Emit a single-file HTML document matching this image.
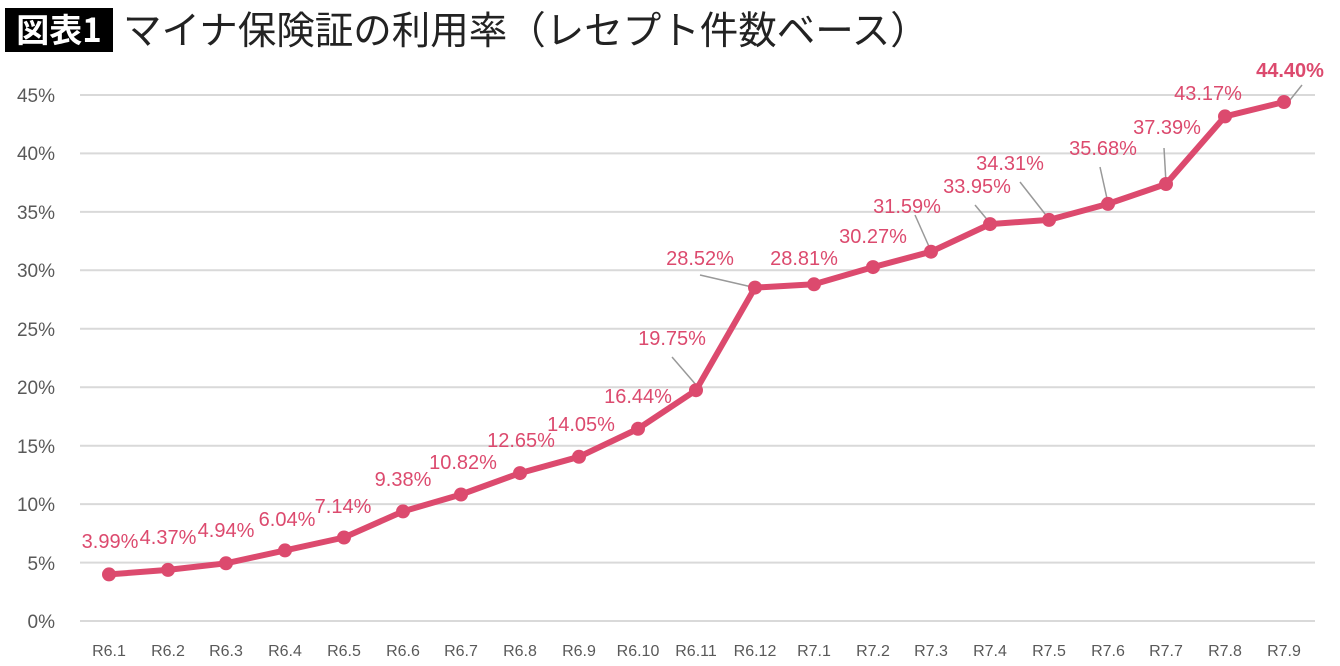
<!DOCTYPE html>
<html><head><meta charset="utf-8"><style>
html,body{margin:0;padding:0;background:#fff;}
svg{display:block;}
</style></head><body>
<svg width="1340" height="666" viewBox="0 0 1340 666" xmlns="http://www.w3.org/2000/svg" font-family="'Liberation Sans','Noto Sans CJK JP',sans-serif">
<rect x="5" y="8" width="108" height="44" fill="#000"/>
<text x="59" y="42" fill="#fff" font-size="33" text-anchor="middle" font-family="'Noto Sans CJK JP',sans-serif" font-weight="bold">図表1</text>
<text x="123" y="44" fill="#222" font-size="38.5" font-family="'Noto Sans CJK JP',sans-serif">マイナ保険証の利用率（レセプト件数ベース）</text>
<g stroke="#d9d9d9" stroke-width="2">
<line x1="80" x2="1315" y1="95" y2="95"/><line x1="80" x2="1315" y1="153.4" y2="153.4"/><line x1="80" x2="1315" y1="211.9" y2="211.9"/><line x1="80" x2="1315" y1="270.3" y2="270.3"/><line x1="80" x2="1315" y1="328.8" y2="328.8"/><line x1="80" x2="1315" y1="387.2" y2="387.2"/><line x1="80" x2="1315" y1="445.7" y2="445.7"/><line x1="80" x2="1315" y1="504.1" y2="504.1"/><line x1="80" x2="1315" y1="562.6" y2="562.6"/><line x1="80" x2="1315" y1="621" y2="621"/>
</g>
<g fill="#595959" font-size="19" text-anchor="end">
<text x="55" y="102">45%</text><text x="55" y="160">40%</text><text x="55" y="219">35%</text><text x="55" y="277">30%</text><text x="55" y="336">25%</text><text x="55" y="394">20%</text><text x="55" y="453">15%</text><text x="55" y="511">10%</text><text x="55" y="570">5%</text><text x="55" y="628">0%</text>
</g>
<g fill="#595959" font-size="16" text-anchor="middle">
<text x="109" y="656">R6.1</text><text x="168" y="656">R6.2</text><text x="226" y="656">R6.3</text><text x="285" y="656">R6.4</text><text x="344" y="656">R6.5</text><text x="403" y="656">R6.6</text><text x="461" y="656">R6.7</text><text x="520" y="656">R6.8</text><text x="579" y="656">R6.9</text><text x="638" y="656">R6.10</text><text x="696" y="656">R6.11</text><text x="755" y="656">R6.12</text><text x="814" y="656">R7.1</text><text x="873" y="656">R7.2</text><text x="931" y="656">R7.3</text><text x="990" y="656">R7.4</text><text x="1049" y="656">R7.5</text><text x="1108" y="656">R7.6</text><text x="1166" y="656">R7.7</text><text x="1225" y="656">R7.8</text><text x="1284" y="656">R7.9</text>
</g>
<g stroke="#999" stroke-width="1.5">
<line x1="672" y1="357" x2="697" y2="386"/><line x1="700" y1="275" x2="752" y2="287"/><line x1="915" y1="215" x2="931" y2="251"/><line x1="1020" y1="182" x2="1049" y2="219"/><line x1="1100" y1="167" x2="1108" y2="203"/><line x1="1164" y1="148" x2="1166" y2="183"/><line x1="1302" y1="85" x2="1290" y2="100"/><line x1="975" y1="205" x2="990" y2="223"/>
</g>
<polyline fill="none" stroke="#dc4a6e" stroke-width="6" stroke-linejoin="round" points="109,574.4 168,569.9 226,563.3 285,550.4 344,537.5 403,511.4 461,494.5 520,473.1 579,456.8 638,428.8 696,390.2 755,287.6 814,284.3 873,267.1 931,251.7 990,224.1 1049,219.9 1108,203.9 1166,184 1225,116.4 1284,102"/>
<g fill="#dc4a6e">
<circle cx="109" cy="574.4" r="7"/><circle cx="168" cy="569.9" r="7"/><circle cx="226" cy="563.3" r="7"/><circle cx="285" cy="550.4" r="7"/><circle cx="344" cy="537.5" r="7"/><circle cx="403" cy="511.4" r="7"/><circle cx="461" cy="494.5" r="7"/><circle cx="520" cy="473.1" r="7"/><circle cx="579" cy="456.8" r="7"/><circle cx="638" cy="428.8" r="7"/><circle cx="696" cy="390.2" r="7"/><circle cx="755" cy="287.6" r="7"/><circle cx="814" cy="284.3" r="7"/><circle cx="873" cy="267.1" r="7"/><circle cx="931" cy="251.7" r="7"/><circle cx="990" cy="224.1" r="7"/><circle cx="1049" cy="219.9" r="7"/><circle cx="1108" cy="203.9" r="7"/><circle cx="1166" cy="184" r="7"/><circle cx="1225" cy="116.4" r="7"/><circle cx="1284" cy="102" r="7"/>
</g>
<g fill="#dc4a6e" font-size="20" text-anchor="middle">
<text x="110" y="548">3.99%</text><text x="168" y="544">4.37%</text><text x="226" y="537">4.94%</text><text x="287" y="526">6.04%</text><text x="343" y="513">7.14%</text><text x="403" y="486">9.38%</text><text x="463" y="469">10.82%</text><text x="521" y="447">12.65%</text><text x="581" y="431">14.05%</text><text x="638" y="403">16.44%</text><text x="672" y="345">19.75%</text><text x="700" y="265">28.52%</text><text x="804" y="265">28.81%</text><text x="873" y="243">30.27%</text><text x="907" y="213">31.59%</text><text x="977" y="193">33.95%</text><text x="1010" y="170">34.31%</text><text x="1103" y="155">35.68%</text><text x="1167" y="134">37.39%</text><text x="1208" y="100">43.17%</text><text x="1290" y="77" font-weight="bold">44.40%</text>
</g>
</svg>
</body></html>
